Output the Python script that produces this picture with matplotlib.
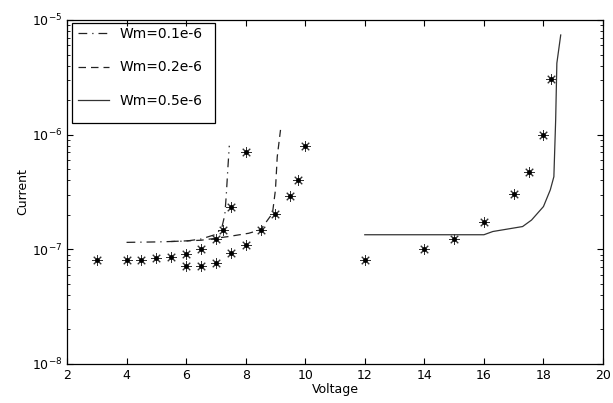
import matplotlib.pyplot as plt
from matplotlib.patches import Rectangle
import numpy as np

# measured points
v_meas = [3, 4, 4.5, 5, 5.5, 6, 6, 6.5, 6.5, 7, 7, 7.25, 7.5, 7.5, 8, 8.5, 9,
          8, 10, 9.75, 9.5, 12, 14, 15, 16, 17, 17.5, 18, 18.25]
i_meas = [8e-8, 8e-8, 8e-8, 8.4e-8, 8.5e-8, 9.1e-8, 7.1e-8, 1.0e-7, 7.1e-8,
          7.6e-8, 1.22e-7, 1.47e-7, 2.36e-7, 9.3e-8, 1.09e-7, 1.48e-7, 2.04e-7,
          7.1e-7, 8.0e-7, 4.0e-7, 2.9e-7, 8e-8, 1.0e-7, 1.22e-7, 1.73e-7,
          3.04e-7, 4.76e-7, 1.0e-6, 3.06e-6]

# model curves
v_01 = [4, 5, 6, 6.5, 7, 7.2, 7.3, 7.35, 7.4, 7.45]
i_01 = [1.15e-7, 1.16e-7, 1.18e-7, 1.23e-7, 1.35e-7, 1.55e-7, 2.0e-7, 3.0e-7, 5.0e-7, 8.0e-7]

v_02 = [5.5, 6.5, 7.4, 8.1, 8.5, 8.9, 9.0, 9.06, 9.17]
i_02 = [1.17e-7, 1.2e-7, 1.29e-7, 1.38e-7, 1.48e-7, 2.06e-7, 3.3e-7, 6.4e-7, 1.1e-6]

v_05 = [12, 16, 16.3, 17.3, 17.6, 18.0, 18.23, 18.35, 18.41, 18.45, 18.58]
i_05 = [1.34e-7, 1.34e-7, 1.43e-7, 1.58e-7, 1.8e-7, 2.36e-7, 3.3e-7, 4.3e-7, 1.34e-6, 4.2e-6, 7.4e-6]

fig = plt.figure(figsize=(6.13, 4.03), dpi=100)
ax = fig.add_axes([0.1093, 0.0968, 0.8744, 0.8536])

ax.plot(v_01, i_01, color='#222222', lw=0.9, linestyle=(0, (7, 4, 1, 4)), label='Wm=0.1e-6')
ax.plot(v_02, i_02, color='#222222', lw=0.9, linestyle=(0, (6, 4)), label='Wm=0.2e-6')
ax.plot(v_05, i_05, color='#333333', lw=0.9, linestyle='-', label='Wm=0.5e-6')
ax.plot(v_meas, i_meas, linestyle='none', marker=(8, 2, 0), markersize=7.5,
        markeredgewidth=0.7, color='#333333')
ax.plot(v_meas, i_meas, linestyle='none', marker='o', markersize=2.5, color='black')

ax.set_yscale('log')
ax.set_xlim(2, 20)
ax.set_ylim(1e-8, 1e-5)
ax.set_xticks(np.arange(2, 21, 2))
ax.tick_params(which='both', direction='in', top=True, right=True, labelsize=9)
ax.tick_params(which='major', length=4)
ax.tick_params(which='minor', length=2)
ax.set_xlabel('Voltage', fontsize=9, labelpad=1)
ax.set_ylabel('Current', fontsize=9, labelpad=2)
for s in ax.spines.values():
    s.set_linewidth(0.9)

# legend without its own frame, boxed like the original
leg = ax.legend(loc='upper left', bbox_to_anchor=(0.0, 1.012), fontsize=10, frameon=False,
                labelspacing=1.4, handlelength=2.2, handletextpad=0.8,
                borderpad=0.5, borderaxespad=0.3)
ax.add_patch(Rectangle((0.009, 0.701), 0.267, 0.29, transform=ax.transAxes,
                       fill=False, edgecolor='black', lw=0.9, zorder=5))

fig.savefig('out.png', dpi=100)
